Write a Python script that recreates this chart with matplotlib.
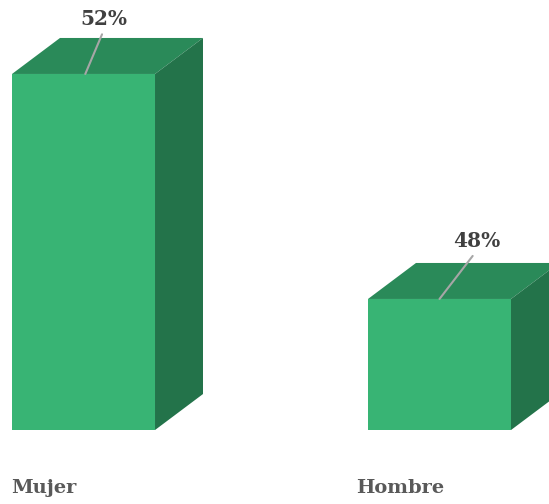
import matplotlib
matplotlib.use("Agg")
import matplotlib.pyplot as plt
from matplotlib.patches import Polygon, Rectangle

categories = ["Mujer", "Hombre"]
values = [52, 48]
labels = ["52%", "48%"]

BASE = 45.67          # axis baseline value
FRONT = "#38B474"
TOP = "#2A8A59"
SIDE = "#23734A"

fig = plt.figure(figsize=(5.49, 5.04), dpi=100)
ax = fig.add_axes([0, 0, 1, 1])
ax.set_xlim(-0.2346, 1.3076)
ax.set_ylim(44.355, 53.315)
ax.axis("off")

w = 0.4017
dx = 0.1348
dy = 0.64
label_offsets = [(19, 45), (37, 48)]
line_starts = [0.005, 0.0]

for i, (cat, v, lab) in enumerate(zip(categories, values, labels)):
    x0 = i - w / 2
    x1 = i + w / 2
    ax.add_patch(Rectangle((x0, BASE), w, v - BASE, facecolor=FRONT, edgecolor="none", zorder=3))
    ax.add_patch(Polygon([(x0, v), (x1, v), (x1 + dx, v + dy), (x0 + dx, v + dy)],
                         closed=True, facecolor=TOP, edgecolor="none", zorder=2))
    ax.add_patch(Polygon([(x1, BASE), (x1 + dx, BASE + dy), (x1 + dx, v + dy), (x1, v)],
                         closed=True, facecolor=SIDE, edgecolor="none", zorder=2))
    ox, oy = label_offsets[i]
    ax.annotate(lab, xy=(i + line_starts[i], v), xytext=(ox, oy), textcoords="offset pixels",
                ha="center", va="bottom", fontsize=14.5, fontweight="bold",
                family="DejaVu Serif", color="#404040", zorder=5,
                arrowprops=dict(arrowstyle="-", color="#A6A6A6", lw=1.5,
                                relpos=(0.5, 0), shrinkA=2, shrinkB=0))

cat_x = [-0.111, 0.889]
for cx, cat in zip(cat_x, categories):
    ax.text(cx, 44.355 + 16 / 56.25, cat, ha="center", va="center", fontsize=14,
            fontweight="bold", family="DejaVu Serif", color="#595959")

fig.savefig("out.png", dpi=100)
